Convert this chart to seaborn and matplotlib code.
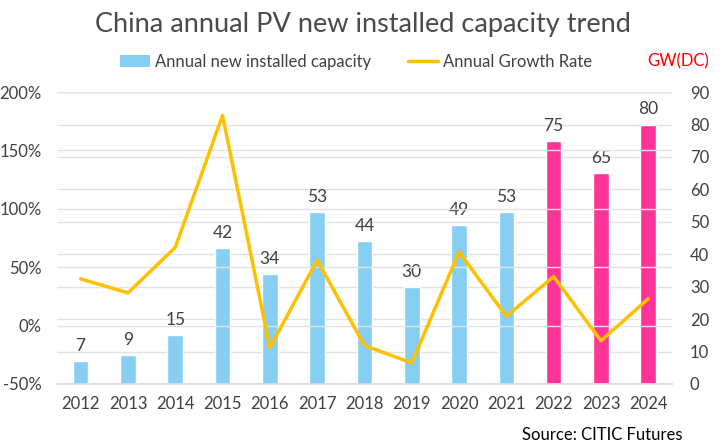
import matplotlib
matplotlib.use("Agg")
import matplotlib.pyplot as plt
import seaborn as sns
import pandas as pd
import numpy as np
from matplotlib.patches import Patch
from matplotlib.lines import Line2D

years = ["2012", "2013", "2014", "2015", "2016", "2017", "2018", "2019", "2020", "2021", "2022", "2023", "2024"]
capacity = [7, 9, 15, 42, 34, 53, 44, 30, 49, 53, 75, 65, 80]
growth = [40, 28, 67, 180, -19, 56, -17, -32, 63, 8, 42, -13, 23]
forecast = [False] * 10 + [True] * 3

sns.set_theme(style="white")
plt.rcParams['font.family'] = ['Lato', 'DejaVu Sans']

blue = "#86CFF2"
pink = "#FF3399"
gold = "#FFC000"
txt = "#404040"

df = pd.DataFrame({"year": years, "cap": capacity,
                   "kind": ["f" if f else "a" for f in forecast],
                   "idx": np.arange(len(years)), "growth": growth})

fig = plt.figure(figsize=(7.26, 4.47), dpi=100)
ax = fig.add_axes([0.0785, 0.141, 0.847, 0.653])
sns.barplot(data=df, x="year", y="cap", hue="kind", palette={"a": blue, "f": pink},
            width=0.33, dodge=False, legend=False, ax=ax, saturation=1)
ax.set_ylim(0, 90)
ax.set_yticks(range(0, 91, 10))
ax.set_xlim(-0.5, 12.5)
ax.set_xlabel("")
ax.set_ylabel("")
for i, v in enumerate(capacity):
    ax.text(i, v + 2.2, str(v), ha="center", va="bottom", fontsize=12.5, color=txt)
ax.grid(axis="y", color="#e2e2e2", linewidth=1)
ax.set_axisbelow(True)

ax2 = ax.twinx()
sns.lineplot(data=df, x="idx", y="growth", color=gold, linewidth=2.5, ax=ax2)
ax2.set_ylim(-50, 200)
ax2.set_yticks(range(-50, 201, 50))
ax2.set_yticklabels([f"{v}%" for v in range(-50, 201, 50)])
ax2.set_xlabel("")
ax2.set_ylabel("")
ax2.grid(axis="y", color="#e2e2e2", linewidth=1)
ax2.set_xlim(-0.5, 12.5)

ax.yaxis.tick_right()
ax2.yaxis.tick_left()

for a in (ax, ax2):
    for s in a.spines.values():
        s.set_visible(False)
    a.tick_params(axis="both", length=0, labelsize=12, colors=txt)
ax.tick_params(axis="x", pad=9)
ax.tick_params(axis="y", pad=13)
ax2.tick_params(axis="y", pad=11)
ax.spines["bottom"].set_visible(True)
ax.spines["bottom"].set_color("#d9d9d9")

fig.text(0.5, 0.945, "China annual PV new installed capacity trend", ha="center", va="center",
         fontsize=19.5, color="#4a4a4a")
handles = [Patch(facecolor=blue, edgecolor="none"), Line2D([0], [0], color=gold, linewidth=2.5)]
leg = fig.legend(handles, ["Annual new installed capacity", "Annual Growth Rate"],
                 loc="center", bbox_to_anchor=(0.49, 0.862), ncol=2, frameon=False,
                 fontsize=12, handlelength=1.8, handleheight=0.8, columnspacing=2.2, handletextpad=0.3)
for t in leg.get_texts():
    t.set_color(txt)
fig.text(0.977, 0.862, "GW(DC)", ha="right", va="center", fontsize=12, color="red")
fig.text(0.94, 0.027, "Source: CITIC Futures", ha="right", va="center", fontsize=12, color="black")

fig.savefig("out.png", dpi=100)
